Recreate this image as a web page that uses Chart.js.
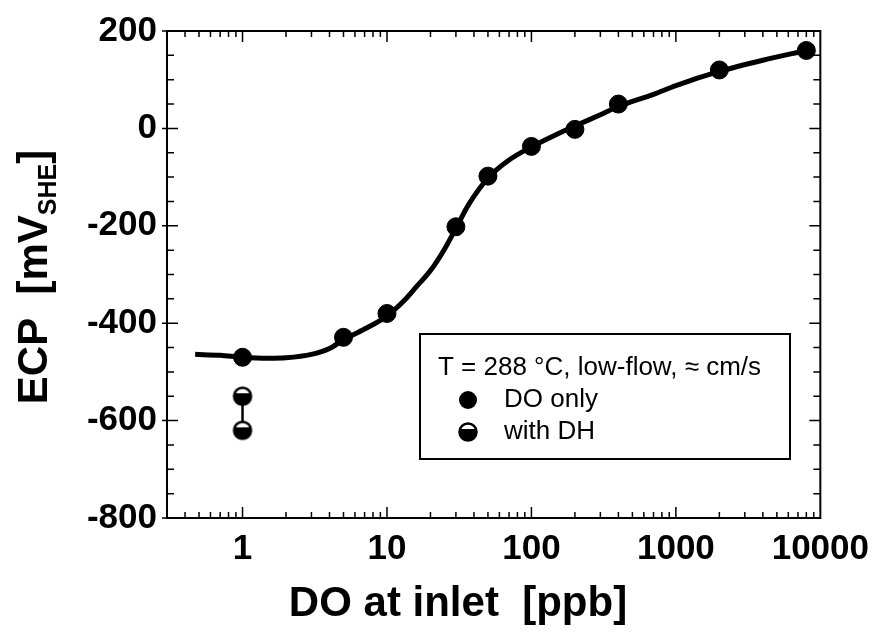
<!DOCTYPE html>
<html>
<head>
<meta charset="utf-8">
<style>
	html, body { margin: 0; padding: 0; background: #fff; }
	#wrap { width: 879px; height: 632px; }
</style>
<script src="https://cdn.jsdelivr.net/npm/chart.js@4.4.0/dist/chart.umd.min.js"></script>
</head>
<body>
<div id="wrap"><canvas id="chart-ecp"></canvas></div>
<script>
// Measured ECP, DO only
const DO_PPB = [1, 5, 10, 30, 50, 100, 200, 400, 2000, 8000];
const ECP_DO = [-470, -429, -380, -202, -98, -37, -2, 50, 120, 160];

// Measured ECP with DH (both at 1 ppb)
const DH_PPB = [1, 1];
const ECP_DH = [-550, -620];

// Fitted curve
const FIT_PPB = [0.47, 0.7, 1, 1.5, 2, 3, 4, 5, 7, 10, 13, 16, 20, 25, 30, 37, 50, 70, 100, 150, 200, 300, 400, 700, 1000, 2000, 4000, 8000];
const FIT_ECP = [-464, -466, -470, -472, -471, -464, -452, -434, -412, -385, -355, -325, -292, -248, -205, -155, -102, -65, -38, -12, 5, 28, 45, 70, 88, 117, 140, 160];

// Axes
const X_TICKS = [1, 10, 100, 1000, 10000];
const Y_TICKS = [200, 0, -200, -400, -600, -800];
const X_MIN = 0.3;
const X_MAX = 10000;
const Y_MIN = -800;
const Y_MAX = 200;

const X_TITLE = "DO at inlet  [ppb]";
const Y_TITLE = ["ECP  [mV", "SHE", "]"];
const LEGEND_TITLE = "T = 288 °C, low-flow, ≈ cm/s";
const LEGEND_LABELS = ["DO only", "with DH"];

const FONT = "'Liberation Sans', Arial, Helvetica, sans-serif";
const INK = "#000";

// Half filled marker for the DH points (white cap on top)
const halfDot = (() => {
	const c = document.createElement("canvas");
	c.width = 22;
	c.height = 22;
	const g = c.getContext("2d");
	g.fillStyle = "#fff";
	g.beginPath();
	g.arc(11, 11, 8.5, 0, Math.PI * 2);
	g.fill();
	g.fillStyle = INK;
	g.beginPath();
	g.arc(11, 11, 8.5, -0.35, Math.PI + 0.35);
	g.closePath();
	g.fill();
	g.lineWidth = 2.5;
	g.strokeStyle = INK;
	g.beginPath();
	g.arc(11, 11, 8.5, 0, Math.PI * 2);
	g.stroke();
	return c;
})();

// Frame, inward ticks, titles and the boxed legend
const decor = {
	id: "decor",
	afterDatasetsDraw(chart) {
		const { ctx, chartArea: a, scales } = chart;
		const xs = scales.x;
		const ys = scales.y;
		ctx.save();
		ctx.strokeStyle = INK;
		ctx.lineWidth = 2;
		ctx.strokeRect(a.left, a.top, a.right - a.left, a.bottom - a.top);

		ctx.lineWidth = 1.5;
		ctx.beginPath();
		// x ticks, log minor ticks
		for (let d = 0.1; d <= 1000; d *= 10) {
			for (let m = 1; m <= 9; m++) {
				const v = m * d;
				if (v < X_MIN || v > X_MAX) continue;
				const px = xs.getPixelForValue(v);
				const len = m === 1 ? 11 : 6;
				ctx.moveTo(px, a.bottom);
				ctx.lineTo(px, a.bottom - len);
				ctx.moveTo(px, a.top);
				ctx.lineTo(px, a.top + len);
			}
		}
		// y ticks every 50
		for (let v = Y_MIN; v <= Y_MAX; v += 50) {
			const py = ys.getPixelForValue(v);
			const major = v % 200 === 0;
			const len = major ? 11 : 7;
			ctx.moveTo(a.left - (major ? 5 : 0), py);
			ctx.lineTo(a.left + len, py);
			ctx.moveTo(a.right, py);
			ctx.lineTo(a.right - len, py);
		}
		ctx.stroke();

		// x title
		ctx.fillStyle = INK;
		ctx.font = "bold 42px " + FONT;
		ctx.textAlign = "center";
		ctx.textBaseline = "middle";
		ctx.fillText(X_TITLE, 458, 604);

		// y title with subscript
		ctx.save();
		ctx.translate(32, 277);
		ctx.rotate(-Math.PI / 2);
		const big = "bold 42px " + FONT;
		const small = "bold 25px " + FONT;
		ctx.font = big;
		const w0 = ctx.measureText(Y_TITLE[0]).width;
		const w2 = ctx.measureText(Y_TITLE[2]).width;
		ctx.font = small;
		const w1 = ctx.measureText(Y_TITLE[1]).width;
		let x0 = -(w0 + w1 + w2) / 2;
		ctx.textAlign = "left";
		ctx.textBaseline = "alphabetic";
		ctx.font = big;
		ctx.fillText(Y_TITLE[0], x0, 15);
		ctx.font = small;
		ctx.fillText(Y_TITLE[1], x0 + w0, 24);
		ctx.font = big;
		ctx.fillText(Y_TITLE[2], x0 + w0 + w1, 15);
		ctx.restore();

		// legend box
		const bx = a.left + 253;
		const by = a.top + 303;
		const bw = 370;
		const bh = 125;
		ctx.fillStyle = "#fff";
		ctx.fillRect(bx, by, bw, bh);
		ctx.lineWidth = 2;
		ctx.strokeRect(bx, by, bw, bh);
		ctx.fillStyle = INK;
		ctx.font = "26px " + FONT;
		ctx.textAlign = "left";
		ctx.textBaseline = "middle";
		ctx.fillText(LEGEND_TITLE, bx + 18, by + 34);
		ctx.fillText(LEGEND_LABELS[0], bx + 84, by + 66);
		ctx.fillText(LEGEND_LABELS[1], bx + 84, by + 98);
		ctx.beginPath();
		ctx.arc(bx + 48, by + 66, 9, 0, Math.PI * 2);
		ctx.fill();
		ctx.drawImage(halfDot, bx + 48 - 11, by + 98 - 11);
		ctx.restore();
	},
};

// Chart data
const DATA = {
	datasets: [
		{
			label: "fit",
			data: FIT_PPB.map((x, i) => ({ x, y: FIT_ECP[i] })),
			borderColor: INK,
			borderWidth: 5,
			pointRadius: 0,
			cubicInterpolationMode: "monotone",
			showLine: true,
		},
		{
			label: LEGEND_LABELS[1],
			data: DH_PPB.map((x, i) => ({ x, y: ECP_DH[i] })),
			borderColor: INK,
			borderWidth: 2.5,
			pointStyle: halfDot,
			showLine: true,
		},
		{
			label: LEGEND_LABELS[0],
			data: DO_PPB.map((x, i) => ({ x, y: ECP_DO[i] })),
			backgroundColor: INK,
			borderColor: INK,
			pointRadius: 9,
			showLine: false,
		},
	],
};

const TICK_FONT = { family: FONT, size: 35, weight: "bold" };

// Chart config
const CONFIG = {
	type: "scatter",
	data: DATA,
	options: {
		responsive: true,
		maintainAspectRatio: false,
		animation: false,
		layout: {
			padding: { top: 30, right: 57, left: 0, bottom: 0 },
		},
		plugins: {
			legend: { display: false },
			tooltip: { enabled: false },
		},
		scales: {
			x: {
				type: "logarithmic",
				min: X_MIN,
				max: X_MAX,
				border: { display: false },
				grid: { display: false, drawTicks: false },
				afterBuildTicks: (s) => {
					s.ticks = X_TICKS.map((value) => ({ value }));
				},
				afterFit: (s) => {
					s.height = 114;
				},
				ticks: {
					color: INK,
					font: TICK_FONT,
					padding: 10,
					maxRotation: 0,
					autoSkip: false,
					callback: (v) => String(v),
				},
			},
			y: {
				min: Y_MIN,
				max: Y_MAX,
				border: { display: false },
				grid: { display: false, drawTicks: false },
				afterBuildTicks: (s) => {
					s.ticks = Y_TICKS.map((value) => ({ value }));
				},
				afterFit: (s) => {
					s.width = 167;
				},
				ticks: {
					color: INK,
					font: TICK_FONT,
					padding: 10,
					callback: (v) => String(v),
				},
			},
		},
	},
	plugins: [decor],
};

// Init chart
const WRAPPER = document.getElementById("chart-ecp");
if (WRAPPER) {
	new Chart(WRAPPER, CONFIG);
}
</script>
</body>
</html>
